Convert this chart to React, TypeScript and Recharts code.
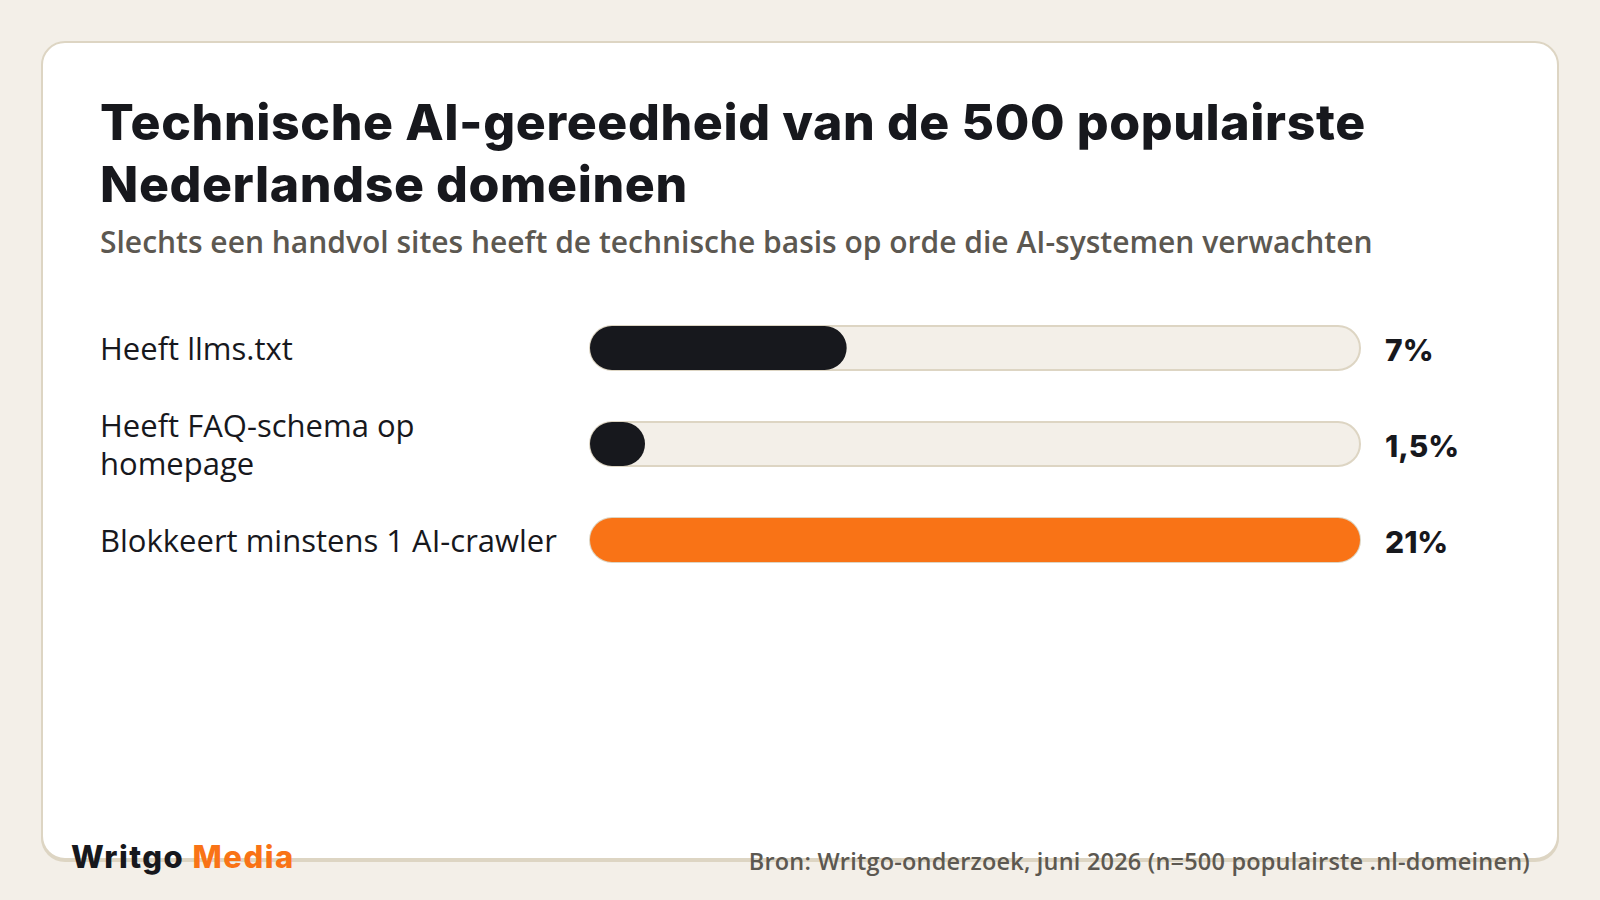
import { BarChart, Bar, XAxis, YAxis, Cell } from 'recharts';

const categories = ['Heeft llms.txt', 'Heeft FAQ-schema op\nhomepage', 'Blokkeert minstens 1 AI-crawler'];
const values = [7, 1.5, 21];
const valueLabels = ['7%', '1,5%', '21%'];
const barColors = ['#17181d', '#17181d', '#f97316'];
const axisMax = 21;

const chartData = categories.map((name, i) => ({
  name,
  value: values[i],
  label: valueLabels[i],
}));

const DARK = '#17181d';
const GREY = '#5c5851';
const PAGE_BG = '#f3efe8';
const TRACK_BORDER = '#ddd5c3';

const CategoryTick = (props: any) => {
  const { y, payload } = props;
  const lines = String(payload.value).split('\n');
  const lineH = 38;
  const startY = y - ((lines.length - 1) * lineH) / 2;
  return (
    <text
      x={100}
      y={startY}
      textAnchor="start"
      dominantBaseline="central"
      fill={DARK}
      style={{ fontFamily: '"Open Sans", sans-serif', fontWeight: 500, fontSize: 31 }}
    >
      {lines.map((l, i) => (
        <tspan key={i} x={100} y={startY + i * lineH} dominantBaseline="central">
          {l}
        </tspan>
      ))}
    </text>
  );
};

const ValueTick = (props: any) => {
  const { x, y, payload } = props;
  const row = chartData.find((d) => d.name === payload.value);
  return (
    <text
      x={x}
      y={y + 2}
      textAnchor="start"
      dominantBaseline="central"
      fill={DARK}
      style={{ fontFamily: 'Inter, sans-serif', fontWeight: 800, fontSize: 30 }}
    >
      {row ? row.label : ''}
    </text>
  );
};

export default function App() {
  return (
    <div
      style={{
        position: 'absolute',
        left: 0,
        top: 0,
        width: 1600,
        height: 900,
        background: PAGE_BG,
        overflow: 'hidden',
      }}
    >
      {/* kaart */}
      <div
        style={{
          position: 'absolute',
          left: 41,
          top: 41,
          width: 1518,
          height: 819,
          boxSizing: 'border-box',
          background: '#ffffff',
          border: `2.5px solid ${TRACK_BORDER}`,
          borderRadius: 24,
          boxShadow: `0 2px 0 ${TRACK_BORDER}`,
        }}
      />

      {/* titel */}
      <div
        style={{
          position: 'absolute',
          left: 100,
          top: 91,
          width: 1440,
          fontFamily: 'Inter, sans-serif',
          fontWeight: 800,
          fontSize: 50,
          lineHeight: '62px',
          letterSpacing: 0.6,
          color: DARK,
          whiteSpace: 'nowrap',
        }}
      >
        Technische AI-gereedheid van de 500 populairste
        <br />
        Nederlandse domeinen
      </div>
      <div
        style={{
          position: 'absolute',
          left: 100,
          top: 227,
          fontFamily: '"Open Sans", sans-serif',
          fontWeight: 600,
          fontSize: 30,
          lineHeight: 1,
          color: GREY,
          whiteSpace: 'nowrap',
        }}
      >
        Slechts een handvol sites heeft de technische basis op orde die AI-systemen verwachten
      </div>

      <div style={{ position: 'absolute', left: 0, top: 0 }}>
        <BarChart
          width={1600}
          height={620}
          data={chartData}
          layout="vertical"
          margin={{ top: 300, right: 0, bottom: 32, left: 0 }}
        >
          <XAxis type="number" domain={[0, axisMax]} hide />
          <YAxis
            yAxisId="left"
            type="category"
            dataKey="name"
            width={590}
            axisLine={false}
            tickLine={false}
            tickSize={0}
            tickMargin={0}
            tick={<CategoryTick />}
            interval={0}
          />
          <YAxis
            yAxisId="right"
            orientation="right"
            type="category"
            dataKey="name"
            width={240}
            axisLine={false}
            tickLine={false}
            tickSize={0}
            tickMargin={25}
            tick={<ValueTick />}
            interval={0}
          />
          <Bar
            yAxisId="left"
            dataKey="value"
            barSize={44}
            radius={22}
            background={{ fill: PAGE_BG, stroke: TRACK_BORDER, strokeWidth: 2, radius: 22 }}
            isAnimationActive={false}
          >
            {chartData.map((d, i) => (
              <Cell key={`cell-${i}`} fill={barColors[i]} />
            ))}
          </Bar>
        </BarChart>
      </div>

      {/* voettekst */}
      <div
        style={{
          position: 'absolute',
          left: 71,
          top: 841,
          fontFamily: 'Inter, sans-serif',
          fontWeight: 800,
          fontSize: 31,
          lineHeight: 1,
          letterSpacing: 1.5,
          whiteSpace: 'nowrap',
        }}
      >
        <span style={{ color: DARK }}>Writgo</span> <span style={{ color: '#f97316' }}>Media</span>
      </div>
      <div
        style={{
          position: 'absolute',
          right: 70,
          top: 850,
          fontFamily: '"Open Sans", sans-serif',
          fontWeight: 600,
          fontSize: 23.5,
          lineHeight: 1,
          letterSpacing: 0.2,
          color: GREY,
          whiteSpace: 'nowrap',
        }}
      >
        Bron: Writgo-onderzoek, juni 2026 (n=500 populairste .nl-domeinen)
      </div>
    </div>
  );
}
